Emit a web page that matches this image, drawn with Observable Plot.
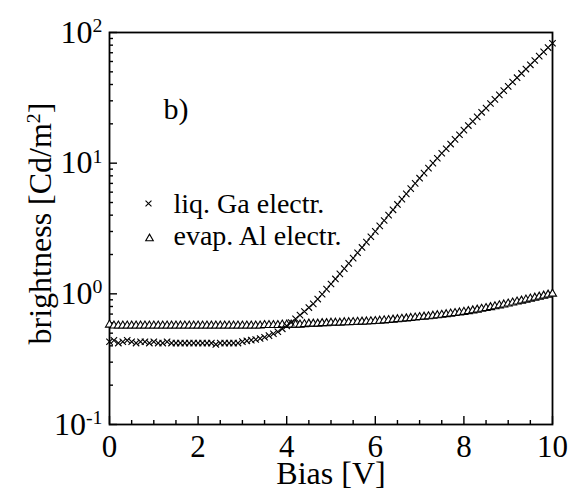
<!DOCTYPE html>
<html><head><meta charset="utf-8">
<script src="https://cdn.jsdelivr.net/npm/d3@7"></script>
<script src="https://cdn.jsdelivr.net/npm/@observablehq/plot@0.6"></script>
<style>
html,body{margin:0;padding:0;background:#fff;}
#chart svg{display:block;}
</style></head><body><div id="chart"></div>
<script>
const bias = [0,0.1,0.2,0.3,0.4,0.5,0.6,0.7,0.8,0.9,
  1,1.1,1.2,1.3,1.4,1.5,1.6,1.7,1.8,1.9,
  2,2.1,2.2,2.3,2.4,2.5,2.6,2.7,2.8,2.9,
  3,3.1,3.2,3.3,3.4,3.5,3.6,3.7,3.8,3.9,
  4,4.1,4.2,4.3,4.4,4.5,4.6,4.7,4.8,4.9,
  5,5.1,5.2,5.3,5.4,5.5,5.6,5.7,5.8,5.9,
  6,6.1,6.2,6.3,6.4,6.5,6.6,6.7,6.8,6.9,
  7,7.1,7.2,7.3,7.4,7.5,7.6,7.7,7.8,7.9,
  8,8.1,8.2,8.3,8.4,8.5,8.6,8.7,8.8,8.9,
  9,9.1,9.2,9.3,9.4,9.5,9.6,9.7,9.8,9.9,
  10];
const gaBrightness = [0.43,0.44,0.42,0.43,0.44,0.43,0.42,0.43,0.43,0.42,
  0.43,0.42,0.42,0.43,0.42,0.42,0.42,0.42,0.42,0.42,
  0.42,0.42,0.42,0.42,0.41,0.42,0.42,0.42,0.42,0.42,
  0.431,0.437,0.442,0.447,0.455,0.465,0.479,0.495,0.513,0.540,
  0.569,0.603,0.643,0.687,0.733,0.785,0.838,0.912,0.993,1.086,
  1.189,1.300,1.422,1.560,1.710,1.875,2.061,2.265,2.489,2.735,
  3.006,3.311,3.639,4.0,4.395,4.831,5.309,5.821,6.383,6.998,
  7.674,8.39,9.16,10.0,10.9,11.9,12.9,14.0,15.2,16.5,
  17.9,19.4,20.9,22.6,24.5,26.4,28.6,30.8,33.3,35.9,
  38.7,41.8,45.1,48.6,52.5,56.6,61.1,65.9,71.1,76.7,
  82.8];
const alBrightness = [0.58,0.57,0.57,0.57,0.57,0.57,0.57,0.57,0.57,0.57,
  0.57,0.57,0.57,0.57,0.57,0.57,0.57,0.57,0.57,0.57,
  0.57,0.57,0.57,0.57,0.57,0.57,0.57,0.57,0.57,0.57,
  0.57,0.57,0.57,0.57,0.57,0.575,0.575,0.575,0.575,0.58,
  0.58,0.58,0.58,0.58,0.585,0.59,0.59,0.59,0.595,0.595,
  0.6,0.6,0.6,0.605,0.605,0.607,0.609,0.611,0.613,0.615,
  0.617,0.621,0.625,0.629,0.633,0.638,0.643,0.647,0.652,0.657,
  0.662,0.667,0.672,0.678,0.684,0.690,0.697,0.704,0.711,0.718,
  0.726,0.735,0.745,0.755,0.766,0.777,0.789,0.801,0.814,0.827,
  0.841,0.855,0.870,0.885,0.901,0.917,0.933,0.949,0.966,0.983,
  1.0];
const seriesNames = ["liq. Ga electr.", "evap. Al electr."];
const xMajorTicks = [0,2,4,6,8,10];
const xTickLabels = ["0","2","4","6","8","10"];
const xMinorTicks = [0.5,1,1.5,2.5,3,3.5,4.5,5,5.5,6.5,7,7.5,8.5,9,9.5];
const yMajorTicks = [0.1,1,10,100];
const yTickLabels = ["10^{-1}","10^{0}","10^{1}","10^{2}"];
const yMinorTicks = [0.2,0.3,0.4,0.5,0.6,0.7,0.8,0.9,2,3,4,5,6,7,8,9,20,30,40,50,60,70,80,90];
const panelLabel = "b)";
const xLabel = "Bias [V]";
const yLabel = "brightness [Cd/m^{2}]";

const ga = bias.map((x, i) => ({x, y: gaBrightness[i]}));
const al = bias.map((x, i) => ({x, y: alBrightness[i]}));

const chart = Plot.plot({
  width: 571, height: 489,
  marginTop: 32, marginRight: 19, marginBottom: 65, marginLeft: 109,
  style: {fontFamily: "'Liberation Serif', 'Times New Roman', serif", background: "#fff", color: "#000"},
  x: {domain: [0, 10]},
  y: {type: "log", domain: [0.1, 100]},
  marks: [
    Plot.axisX(xMinorTicks, {tickSize: -4, strokeWidth: 1.4, tickFormat: () => "", label: null}),
    Plot.axisX(xMajorTicks, {tickSize: -8, strokeWidth: 1.4, tickPadding: 18, fontSize: 31,
      tickFormat: d => xTickLabels[xMajorTicks.indexOf(d)], label: null}),
    Plot.axisY(yMinorTicks, {tickSize: -4, strokeWidth: 1.4, tickFormat: () => "", label: null}),
    Plot.axisY(yMajorTicks, {tickSize: -8, strokeWidth: 1.4, tickPadding: 15, fontSize: 32,
      tickFormat: d => yTickLabels[yMajorTicks.indexOf(d)], label: null}),
    Plot.frame({stroke: "#000", strokeWidth: 1.8}),
    Plot.dot(al, {x: "x", y: "y", symbol: "triangle", r: 3, stroke: "#000", fill: "#fff", strokeWidth: 1.1}),
    Plot.dot(ga, {x: "x", y: "y", symbol: "times", r: 3, stroke: "#000", strokeWidth: 1.1}),
    Plot.dot([seriesNames[0]], {frameAnchor: "top-left", dx: 39, dy: 171, symbol: "times", r: 2.8, stroke: "#000", strokeWidth: 1.1}),
    Plot.dot([seriesNames[1]], {frameAnchor: "top-left", dx: 40, dy: 206, symbol: "triangle", r: 2.8, stroke: "#000", fill: "#fff", strokeWidth: 1.1}),
    Plot.text([seriesNames[0]], {frameAnchor: "top-left", dx: 64, dy: 172, text: d => d, textAnchor: "start", lineAnchor: "middle", fontSize: 28, fill: "#000"}),
    Plot.text([seriesNames[1]], {frameAnchor: "top-left", dx: 64, dy: 204, text: d => d, textAnchor: "start", lineAnchor: "middle", fontSize: 28, fill: "#000"}),
    Plot.text([panelLabel], {frameAnchor: "top-left", dx: 54, dy: 77, text: d => d, textAnchor: "start", lineAnchor: "middle", fontSize: 30, fill: "#000"}),
    Plot.text([xLabel], {frameAnchor: "bottom", dy: 49, text: d => d, textAnchor: "middle", lineAnchor: "middle", fontSize: 32, fill: "#000"}),
    Plot.text([yLabel], {frameAnchor: "left", dx: -69, dy: -5, rotate: -90, text: d => d, textAnchor: "middle", lineAnchor: "middle", fontSize: 32, fill: "#000"})
  ]
});
document.getElementById("chart").appendChild(chart);

function applySuperscripts(svg) {
  svg.querySelectorAll("text").forEach(el => {
    const s = el.textContent;
    if (!s.includes("^{")) return;
    const fs = parseFloat(getComputedStyle(el).fontSize) || 32;
    const supSize = fs * 0.62, raise = fs * 0.34;
    const parts = s.split(/\^\{([^}]*)\}/);
    el.textContent = "";
    let raised = false;
    parts.forEach((p, i) => {
      if (!p) return;
      const t = document.createElementNS("http://www.w3.org/2000/svg", "tspan");
      t.textContent = p;
      if (i % 2 === 1) {
        t.setAttribute("dy", -raise);
        t.setAttribute("font-size", supSize);
        raised = true;
      } else if (raised) {
        t.setAttribute("dy", raise);
        raised = false;
      }
      el.appendChild(t);
    });
  });
}
applySuperscripts(chart);
</script></body></html>
